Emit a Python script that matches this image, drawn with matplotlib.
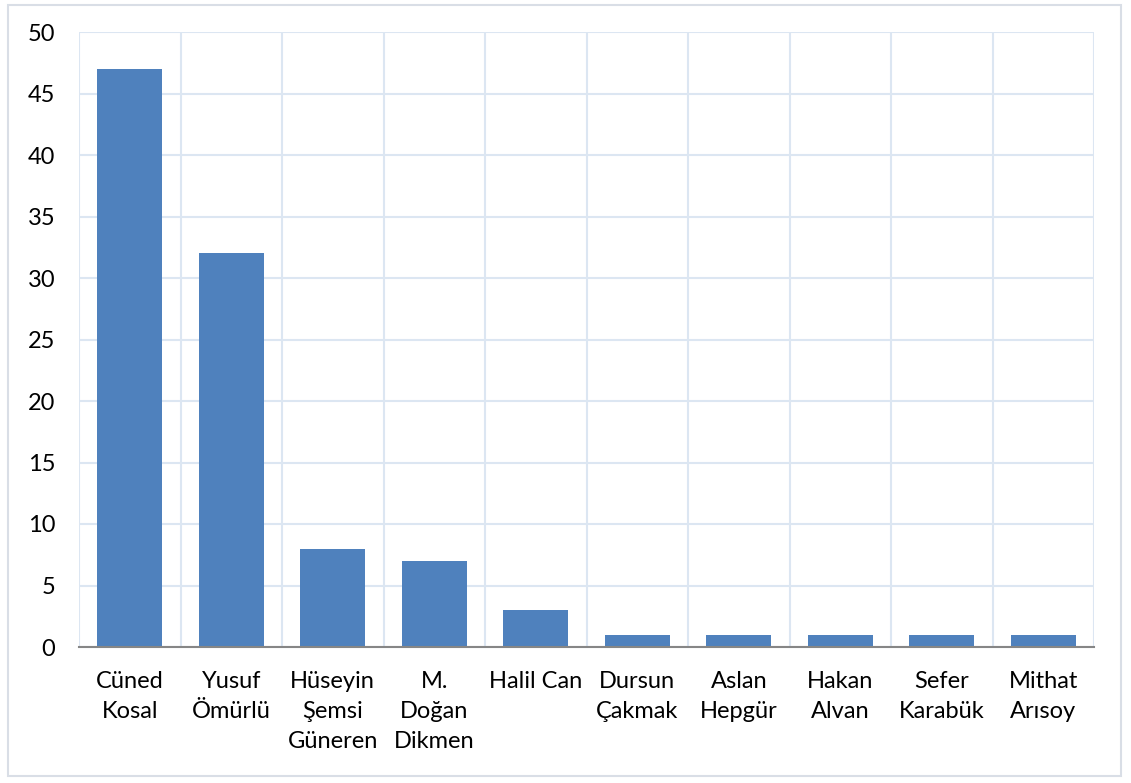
import matplotlib.pyplot as plt
import numpy as np

plt.rcParams['font.family'] = ['Lato', 'DejaVu Sans']

# isimler ve sayılar
isimler = ["Cüned\nKosal", "Yusuf\nÖmürlü", "Hüseyin\nŞemsi\nGüneren", "M.\nDoğan\nDikmen",
           "Halil Can", "Dursun\nÇakmak", "Aslan\nHepgür", "Hakan\nAlvan",
           "Sefer\nKarabük", "Mithat\nArısoy"]
sayilar = [47, 32, 8, 7, 3, 1, 1, 1, 1, 1]
y_ticks = [0, 5, 10, 15, 20, 25, 30, 35, 40, 45, 50]

fig = plt.figure(figsize=(11.31, 7.83), dpi=100)
ax = fig.add_axes([79/1131, 1-647/783, (1094-79)/1131, (647-32)/783])

x = np.arange(len(isimler))
ax.bar(x, sayilar, width=0.64, color='#4F81BD', zorder=3)

ax.set_xlim(-0.5, len(isimler) - 0.5)
ax.set_ylim(0, 50)
ax.set_yticks(y_ticks)
ax.set_xticks(x)
ax.set_xticklabels(isimler, fontsize=17, linespacing=1.55, va='top')
ax.tick_params(axis='y', labelsize=17, length=0, pad=17)
ax.tick_params(axis='x', length=0, pad=17)

# kategori sınırlarında dikey ızgara
ax.set_xticks(np.arange(-0.5, len(isimler)), minor=True)
ax.tick_params(axis='x', which='minor', length=0)
ax.grid(axis='x', which='minor', color='#DCE6F2', linewidth=1.5, zorder=0)
ax.grid(axis='y', which='major', color='#DCE6F2', linewidth=1.5, zorder=0)

for s in ['left', 'top', 'right']:
    ax.spines[s].set_visible(False)
ax.spines['bottom'].set_color('#868686')
ax.spines['bottom'].set_linewidth(1.5)
ax.spines['bottom'].set_zorder(4)

# dış çerçeve
fig.patches.append(plt.Rectangle((8/1131, 1-776/783), (1121-8)/1131, (776-5)/783,
                                 transform=fig.transFigure, fill=False,
                                 edgecolor='#D9DEE6', linewidth=1.5))

fig.savefig('out.png', dpi=100)
